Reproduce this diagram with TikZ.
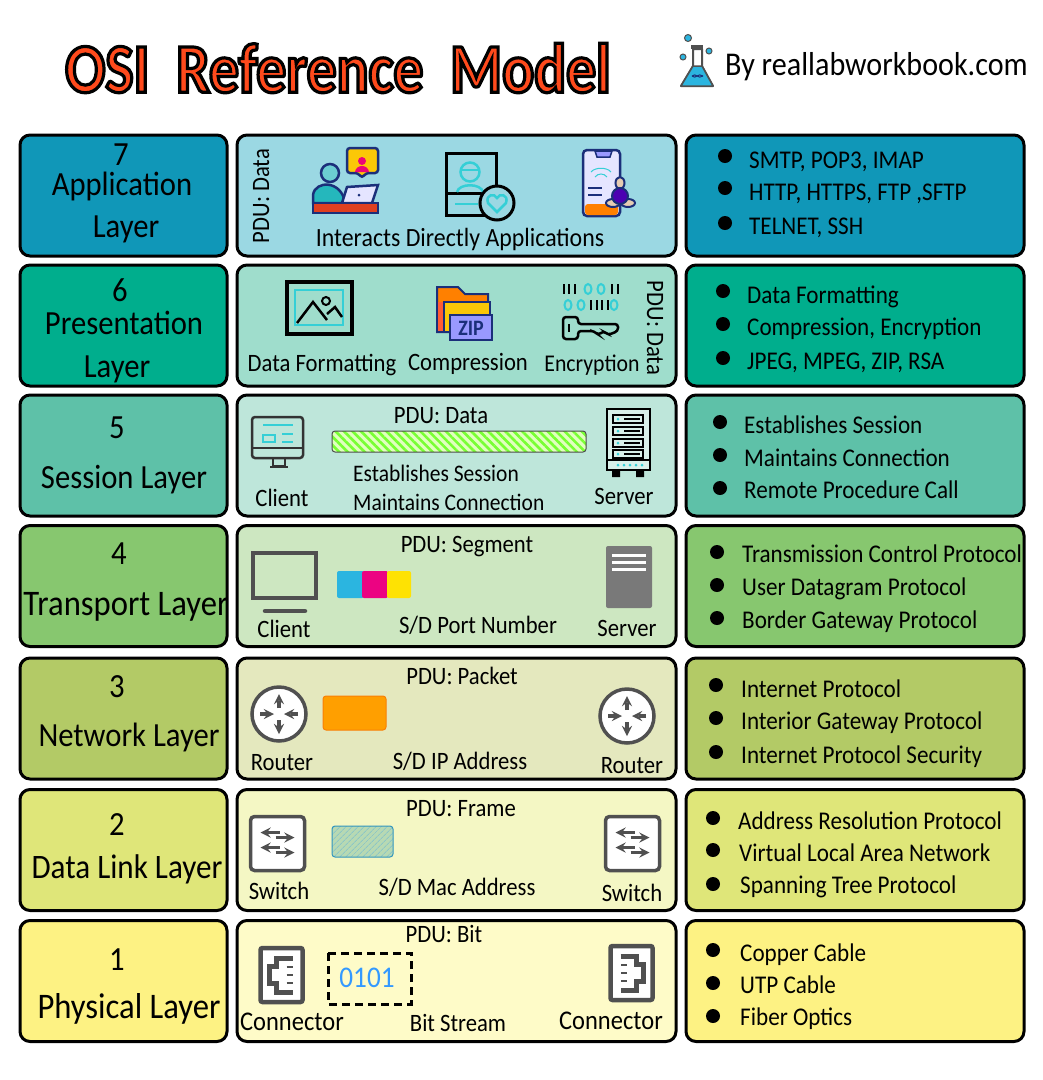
\documentclass[tikz,border=0pt]{standalone}
\usepackage{fontspec}
\setmainfont[FakeStretch=0.907]{Carlito}
\newfontfamily\titlefont[FakeStretch=0.85]{Carlito}
\usetikzlibrary{positioning,shapes,arrows,patterns.meta}
\definecolor{navy}{HTML}{1B2F7A}
\definecolor{iconcyan}{HTML}{35CFD6}
\definecolor{icongray}{HTML}{505050}
\definecolor{flaskblue}{HTML}{2BB5E0}
\definecolor{appdark}{HTML}{1097B8}
\definecolor{applight}{HTML}{9BD8E3}
\definecolor{predark}{HTML}{00AE8D}
\definecolor{prelight}{HTML}{9FDDCC}
\definecolor{sesdark}{HTML}{5EC1A8}
\definecolor{seslight}{HTML}{BEE6DA}
\definecolor{tradark}{HTML}{87C76F}
\definecolor{tralight}{HTML}{CDE7C1}
\definecolor{netdark}{HTML}{B3CA66}
\definecolor{netlight}{HTML}{E4E8BE}
\definecolor{lnkdark}{HTML}{DFE679}
\definecolor{lnklight}{HTML}{F4F7C4}
\definecolor{phydark}{HTML}{FDF283}
\definecolor{phylight}{HTML}{FEFBC8}
\tikzset{
  layerbox/.style={draw,rounded corners=10pt,line width=3pt,inner sep=0pt,minimum height=121pt},
  leftbox/.style={layerbox,minimum width=207pt},
  midbox/.style={layerbox,minimum width=439pt},
  rightbox/.style={layerbox,minimum width=338pt},
  laytxt/.style={inner sep=0pt,font=\fontsize{33.8}{36}\selectfont,text height=25pt,text depth=2pt},
  widetxt/.style={laytxt,font=\fontsize{36}{36}\selectfont},
  midtxt/.style={inner sep=0pt,font=\fontsize{25}{26}\selectfont,text height=19pt,text depth=3pt},
  smalltxt/.style={midtxt,font=\fontsize{23.7}{26}\selectfont},
  bullet/.style={circle,fill=black,inner sep=0pt,minimum size=14pt},
  bulltxt/.style={midtxt,font=\fontsize{25.5}{26}\selectfont,anchor=west},
  grayarrow/.style={-stealth,line width=3.4pt,icongray},
  routericon/.pic={
    \draw[icongray,line width=3.5pt,fill=white] (0,0) circle (27);
    \draw[grayarrow] (0,-6) -- (0,-20);
    \draw[grayarrow] (0,6) -- (0,20);
    \draw[grayarrow] (-19,0) -- (-5,0);
    \draw[grayarrow] (19,0) -- (5,0);
  },
  switchicon/.pic={
    \draw[icongray,line width=3.5pt,fill=white,rounded corners=4pt] (-27,-27) rectangle (27,27);
    \draw[grayarrow] (2,-11) -- (-17,-11);
    \draw[grayarrow] (-2,-6) -- (17,-6);
    \draw[grayarrow] (2,4) -- (-17,4);
    \draw[grayarrow] (-2,9) -- (17,9);
  },
  connicon/.pic={
    \draw[icongray,line width=4.5pt,fill=white,rounded corners=2pt] (-21,-27) rectangle (21,27);
    \draw[icongray,line width=5pt] (11,-17) -- (-5,-17) -- (-5,-9) -- (-12,-9) -- (-12,8) -- (-5,8) -- (-5,17) -- (11,17);
    \draw[icongray,line width=2.6pt] (5,-8) -- (11,-8) (5,0) -- (11,0) (5,8) -- (11,8);
  }
}
\begin{document}
\begin{tikzpicture}[x=1pt,y=-1pt]
\useasboundingbox (0,0) rectangle (1043,1080);

% title
\node[inner sep=0pt,font=\fontsize{70}{70}\titlefont\bfseries] (title) at (338,68)
  {\special{pdf:code q 2 Tr 3.2 w 0 0 0 RG 1 0.29 0.11 rg}OSI\ \ Reference\ \ Model\special{pdf:code Q}};
\node[inner sep=0pt,anchor=west,font=\fontsize{33.2}{34}\selectfont,text height=25pt,text depth=4pt] (site) at (725,65) {By reallabworkbook.com};

% flask
\fill[icongray] (691,45) rectangle (703,49);
\draw[icongray,line width=2pt,fill=white,line join=round] (693,49) -- (693,66) -- (681,86) -- (713,86) -- (702,66) -- (702,49) -- cycle;
\draw[icongray,line width=1.5pt,fill=flaskblue,line join=round] (693,66) -- (681,86) -- (713,86) -- (702,66) -- cycle;
\draw[navy,line width=1pt] (692,76) .. controls (696,80) and (698,72) .. (703,76);
\draw[navy,line width=1pt] (692,76) .. controls (696,72) and (698,80) .. (703,76);
\draw[icongray,line width=1pt,fill=flaskblue] (688,38) circle (3.5);
\draw[icongray,line width=1pt,fill=flaskblue] (683,57) circle (3);
\draw[icongray,line width=1pt,fill=flaskblue] (709,51) circle (3);

% layer 7
\node[leftbox,fill=appdark] (app1) at (123.5,195.5) {};
\node[midbox,fill=applight] (app2) at (456.5,195.5) {};
\node[rightbox,fill=appdark] (app3) at (855,195.5) {};
\node[laytxt] (app1a) at (121,154) {7};
\node[laytxt] (app1b) at (122,184) {Application};
\node[laytxt] (app1c) at (126,226) {Layer};
\node[midtxt,rotate=90] (app2a) at (261,196) {PDU: Data};
\node[midtxt,font=\fontsize{26.3}{26}\selectfont] (app2b) at (460,238) {Interacts Directly Applications};
\node[bullet] (app3a) at (725,156) {};
\node[bullet] (app3b) at (725,188) {};
\node[bullet] (app3c) at (725,223) {};
\node[bulltxt] (app3d) at (749,160) {SMTP, POP3, IMAP};
\node[bulltxt] (app3e) at (749,192) {HTTP, HTTPS, FTP ,SFTP};
\node[bulltxt] (app3f) at (749,226) {TELNET, SSH};
% user with laptop
\draw[navy,line width=2.5pt,fill=yellow!60!orange,rounded corners=3pt] (347,148) -- (378,148) -- (378,173) -- (366,173) -- (362,178) -- (358,173) -- (347,173) -- cycle;
\fill[magenta!80!red] (362,161) circle (4);
\fill[magenta!80!red] (355,172) .. controls (356,164) and (368,164) .. (369,172) -- cycle;
\draw[navy,line width=2.5pt,fill=iconcyan!60!white!80!teal] (330,173) circle (9);
\draw[navy,line width=2.5pt,fill=iconcyan!70!teal] (313,203) -- (313,195) .. controls (315,180) and (342,180) .. (345,203) -- cycle;
\draw[navy,line width=2.5pt,fill=blue!10] (347,187) -- (378,185) -- (372,203) -- (342,203) -- cycle;
\fill[navy] (359,195) circle (1.5);
\draw[navy,line width=2.5pt,fill=red!50!brown] (313,203) rectangle (378,213);
% agent card
\draw[black,line width=3pt] (446,153) rectangle (496,215);
\draw[black,line width=3pt] (446,193) -- (482,193);
\draw[iconcyan,line width=2.5pt] (470,172) circle (9.5);
\draw[iconcyan,line width=2.5pt] (461,170) -- (479,170);
\draw[iconcyan,line width=2.5pt] (457,192) .. controls (459,183) and (481,183) .. (483,192);
\draw[iconcyan,line width=2.5pt] (455,204) -- (478,204);
\draw[black,line width=3pt,fill=applight] (497,203) circle (17);
\draw[iconcyan,line width=2.5pt] (497,212) -- (488,203) .. controls (485,194) and (495,193) .. (497,198) .. controls (499,193) and (509,194) .. (506,203) -- cycle;
% phone
\draw[navy,line width=2.5pt,fill=blue!10,rounded corners=4pt] (583,150) rectangle (620,216);
\fill[orange,rounded corners=3pt] (585,204) rectangle (618,215);
\draw[navy,line width=1.5pt,fill=blue!40] (595,151) -- (612,151) -- (610,157) -- (597,157) -- cycle;
\draw[iconcyan,line width=1pt] (591,172) .. controls (595,167) and (607,167) .. (611,172);
\draw[iconcyan,line width=1pt] (595,177) .. controls (598,173) and (604,173) .. (607,177);
\draw[navy,line width=2pt] (588,188) -- (602,188);
\draw[navy,line width=2pt] (588,195) -- (602,195);
\draw[navy,line width=2pt,fill=brown!40] (613,203) ellipse (7 and 4);
\draw[navy,line width=2pt,fill=brown!40] (628,203) ellipse (7 and 4);
\draw[navy,line width=2pt,fill=brown!40] (620,183) ellipse (4.5 and 6);
\draw[navy,line width=2pt,fill=violet!60!blue] (620,196) circle (8);

% layer 6
\node[leftbox,fill=predark] (pre1) at (123.5,325.5) {};
\node[midbox,fill=prelight] (pre2) at (456.5,325.5) {};
\node[rightbox,fill=predark] (pre3) at (855,325.5) {};
\node[laytxt] (pre1a) at (120,290) {6};
\node[laytxt] (pre1b) at (124,323) {Presentation};
\node[laytxt] (pre1c) at (117,366) {Layer};
\node[midtxt] (pre2a) at (322,363) {Data Formatting};
\node[midtxt] (pre2b) at (468,362) {Compression};
\node[midtxt,font=\fontsize{24}{26}\selectfont] (pre2c) at (592,363) {Encryption};
\node[midtxt,rotate=-90] (pre2d) at (655,328) {PDU: Data};
\node[bullet] (pre3a) at (723,291) {};
\node[bullet] (pre3b) at (723,324) {};
\node[bullet] (pre3c) at (723,358) {};
\node[bulltxt] (pre3d) at (747,295) {Data Formatting};
\node[bulltxt] (pre3e) at (747,327) {Compression, Encryption};
\node[bulltxt] (pre3f) at (747,361) {JPEG, MPEG, ZIP, RSA};
% picture
\draw[black,line width=3.5pt] (287,282) rectangle (352,334);
\draw[iconcyan,line width=2.5pt] (295,290) rectangle (343,325);
\draw[black,line width=2.5pt] (297,323) -- (313,302) -- (327,320);
\draw[black,line width=2.5pt] (327,314) -- (335,307) -- (342,317);
\draw[black,line width=2pt] (326,301) circle (4);
% zip folder
\draw[navy,line width=2pt,fill=orange] (437,287) -- (458,287) -- (465,294) -- (488,294) -- (488,332) -- (437,332) -- cycle;
\fill[red!60!orange!80!white] (438,302) rectangle (450,331);
\draw[navy,line width=2pt,fill=yellow!60!orange] (444,302) rectangle (490,332);
\draw[navy,line width=2pt,fill=blue!40] (450,315) rectangle (492,340);
\node[inner sep=0pt,text=navy,font=\fontsize{22}{22}\selectfont\bfseries] (zip) at (471,328) {ZIP};
% bits and key
\draw[black,line width=2pt] (564,284) -- (564,294) (569,284) -- (569,294) (575,284) -- (575,294) (612,284) -- (612,294) (618,284) -- (618,294);
\draw[black,line width=2pt] (591,300) -- (591,310) (597,300) -- (597,310) (602,300) -- (602,310) (608,300) -- (608,310);
\draw[iconcyan,line width=2pt] (588,289) ellipse (3.5 and 5) (601,289) ellipse (3.5 and 5);
\draw[iconcyan,line width=2pt] (568,305) ellipse (3.5 and 5) (581,305) ellipse (3.5 and 5) (614,305) ellipse (3.5 and 5);
\draw[black,line width=2.5pt,rounded corners=3pt] (578,324) -- (618,324) -- (618,331) -- (608,335) -- (604,331) -- (598,335) -- (594,331) -- (578,331) -- (578,339) -- (563,339) -- (563,317) -- (578,317) -- cycle;
\draw[black,line width=2pt] (569,324) -- (569,332);

% layer 5
\node[leftbox,fill=sesdark] (ses1) at (123.5,455.5) {};
\node[midbox,fill=seslight] (ses2) at (456.5,455.5) {};
\node[rightbox,fill=sesdark] (ses3) at (855,455.5) {};
\node[laytxt] (ses1a) at (117,427) {5};
\node[laytxt] (ses1b) at (124,477) {Session Layer};
\node[midtxt] (ses2a) at (441,415) {PDU: Data};
\node[midtxt] (ses2b) at (282,498) {Client};
\node[smalltxt,anchor=west] (ses2c) at (353,473) {Establishes Session};
\node[smalltxt,anchor=west] (ses2d) at (353,502) {Maintains Connection};
\node[midtxt] (ses2e) at (624,496) {Server};
\node[bullet] (ses3a) at (720,422) {};
\node[bullet] (ses3b) at (720,455) {};
\node[bullet] (ses3c) at (720,488) {};
\node[bulltxt] (ses3d) at (744,425) {Establishes Session};
\node[bulltxt] (ses3e) at (744,458) {Maintains Connection};
\node[bulltxt] (ses3f) at (744,490) {Remote Procedure Call};
\draw[black!70,line width=1pt,rounded corners=3pt,preaction={fill=green!30!lime!25!white},pattern={Lines[angle=-45,distance=6pt,line width=2.6pt]},pattern color=green!55!lime!80!white] (332,431) rectangle (586,452);
% client monitor
\draw[black!80,line width=2.5pt,rounded corners=3pt] (252,417) rectangle (303,458);
\draw[black!80,line width=2.5pt] (252,448) -- (303,448);
\draw[black!80,line width=2.5pt] (273,458) rectangle (285,466);
\draw[black!80,line width=2.5pt] (270,467) -- (288,467);
\draw[iconcyan,line width=2pt] (263,425) -- (293,425);
\draw[iconcyan,line width=2pt] (263,435) rectangle (275,442);
\draw[iconcyan,line width=2pt] (282,434) -- (293,434) (282,442) -- (293,442);
% server rack
\draw[black,line width=2.5pt,fill=seslight!60!white] (607,409) rectangle (650,470);
\draw[black,line width=2.5pt] (613,415) rectangle (643,423) (613,427) rectangle (643,435) (613,439) rectangle (643,447) (613,450) rectangle (643,458);
\draw[black,line width=2pt] (624,419) -- (640,419) (624,431) -- (640,431) (624,443) -- (640,443) (624,454) -- (640,454);
\fill[iconcyan] (618,419) circle (1.5) (618,431) circle (1.5) (618,443) circle (1.5) (618,454) circle (1.5);
\draw[black,line width=2.5pt] (607,460) -- (650,460);
\fill[iconcyan] (618,465) circle (1.5) (624,465) circle (1.5) (630,465) circle (1.5) (636,465) circle (1.5) (642,465) circle (1.5);
\fill[black] (612,470) rectangle (620,477) (636,470) rectangle (644,477);

% layer 4
\node[leftbox,fill=tradark] (tra1) at (123.5,586) {};
\node[midbox,fill=tralight] (tra2) at (456.5,586) {};
\node[rightbox,fill=tradark] (tra3) at (855,586) {};
\node[laytxt] (tra1a) at (119,553) {4};
\node[widetxt] (tra1b) at (126,604) {Transport Layer};
\node[midtxt] (tra2a) at (467,544) {PDU: Segment};
\node[midtxt] (tra2b) at (284,629) {Client};
\node[midtxt] (tra2c) at (478,625) {S/D Port Number};
\node[midtxt] (tra2d) at (627,628) {Server};
\node[bullet] (tra3a) at (717,552) {};
\node[bullet] (tra3b) at (717,585) {};
\node[bullet] (tra3c) at (717,618) {};
\node[bulltxt] (tra3d) at (742,554) {Transmission Control Protocol};
\node[bulltxt] (tra3e) at (742,587) {User Datagram Protocol};
\node[bulltxt] (tra3f) at (742,620) {Border Gateway Protocol};
\draw[icongray,line width=4.5pt] (253,553) rectangle (316,598);
\draw[icongray,line width=4.5pt,line cap=round] (265,611) -- (305,611);
\fill[flaskblue,rounded corners=2pt] (337,571) rectangle (364,598);
\fill[magenta!90!red,rounded corners=2pt] (362,571) rectangle (388,598);
\fill[yellow!85!orange,rounded corners=2pt] (387,571) rectangle (411,598);
\fill[gray!95!black,rounded corners=2pt] (606,546) rectangle (652,608);
\draw[white,line width=3pt] (612,555) -- (646,555) (612,562) -- (646,562) (612,569) -- (646,569);

% layer 3
\node[leftbox,fill=netdark] (net1) at (123.5,718.5) {};
\node[midbox,fill=netlight] (net2) at (456.5,718.5) {};
\node[rightbox,fill=netdark] (net3) at (855,718.5) {};
\node[laytxt] (net1a) at (117,686) {3};
\node[laytxt] (net1b) at (129,735) {Network Layer};
\node[midtxt] (net2a) at (462,676) {PDU: Packet};
\node[midtxt] (net2b) at (282,762) {Router};
\node[midtxt] (net2c) at (460,761) {S/D IP Address};
\node[midtxt] (net2d) at (632,765) {Router};
\node[bullet] (net3a) at (716,685) {};
\node[bullet] (net3b) at (716,718) {};
\node[bullet] (net3c) at (716,752) {};
\node[bulltxt] (net3d) at (741,689) {Internet Protocol};
\node[bulltxt] (net3e) at (741,721) {Interior Gateway Protocol};
\node[bulltxt] (net3f) at (741,755) {Internet Protocol Security};
\pic at (279,714) {routericon};
\pic at (627,716) {routericon};
\draw[orange!90!brown,line width=1pt,fill=orange!75!yellow,rounded corners=3pt] (323,696) rectangle (386,730);

% layer 2
\node[leftbox,fill=lnkdark] (lnk1) at (123.5,850) {};
\node[midbox,fill=lnklight] (lnk2) at (456.5,850) {};
\node[rightbox,fill=lnkdark] (lnk3) at (855,850) {};
\node[laytxt] (lnk1a) at (117,824) {2};
\node[laytxt,font=\fontsize{34.3}{36}\selectfont] (lnk1b) at (127,867) {Data Link Layer};
\node[midtxt] (lnk2a) at (461,808) {PDU: Frame};
\node[midtxt] (lnk2b) at (279,891) {Switch};
\node[midtxt] (lnk2c) at (457,887) {S/D Mac Address};
\node[midtxt] (lnk2d) at (632,893) {Switch};
\node[bullet] (lnk3a) at (713,818) {};
\node[bullet] (lnk3b) at (713,850) {};
\node[bullet] (lnk3c) at (713,884) {};
\node[bulltxt] (lnk3d) at (738,821) {Address Resolution Protocol};
\node[bulltxt] (lnk3e) at (739,853) {Virtual Local Area Network};
\node[bulltxt] (lnk3f) at (740,885) {Spanning Tree Protocol};
\pic at (277.5,843.5) {switchicon};
\pic at (632.5,843.5) {switchicon};
\draw[cyan!50!teal,line width=1pt,rounded corners=3pt,preaction={fill=teal!25!lnklight},pattern={Lines[angle=45,distance=4pt,line width=1pt]},pattern color=teal!45] (332,826) rectangle (393,857);

% layer 1
\node[leftbox,fill=phydark] (phy1) at (123.5,981) {};
\node[midbox,fill=phylight] (phy2) at (456.5,981) {};
\node[rightbox,fill=phydark] (phy3) at (855,981) {};
\node[laytxt] (phy1a) at (117,959) {1};
\node[widetxt] (phy1b) at (129,1007) {Physical Layer};
\node[midtxt] (phy2a) at (444,934) {PDU: Bit};
\node[midtxt,font=\fontsize{27}{26}\selectfont] (phy2b) at (292,1022) {Connector};
\node[midtxt] (phy2c) at (458,1023) {Bit Stream};
\node[midtxt,font=\fontsize{27}{26}\selectfont] (phy2d) at (611,1021) {Connector};
\node[bullet] (phy3a) at (713,950) {};
\node[bullet] (phy3b) at (713,983) {};
\node[bullet] (phy3c) at (713,1016) {};
\node[bulltxt] (phy3d) at (740,953) {Copper Cable};
\node[bulltxt] (phy3e) at (740,985) {UTP Cable};
\node[bulltxt] (phy3f) at (740,1017) {Fiber Optics};
\pic at (281.5,975) {connicon};
\pic[xscale=-1] at (631.5,973) {connicon};
\draw[black,line width=3pt,dashed,dash pattern=on 8pt off 5pt] (328,953) rectangle (411,1004);
\node[inner sep=0pt,text=blue!50!cyan!80!white,font=\fontsize{30}{30}\selectfont] (bits) at (367,978) {0101};
\end{tikzpicture}
\end{document}
